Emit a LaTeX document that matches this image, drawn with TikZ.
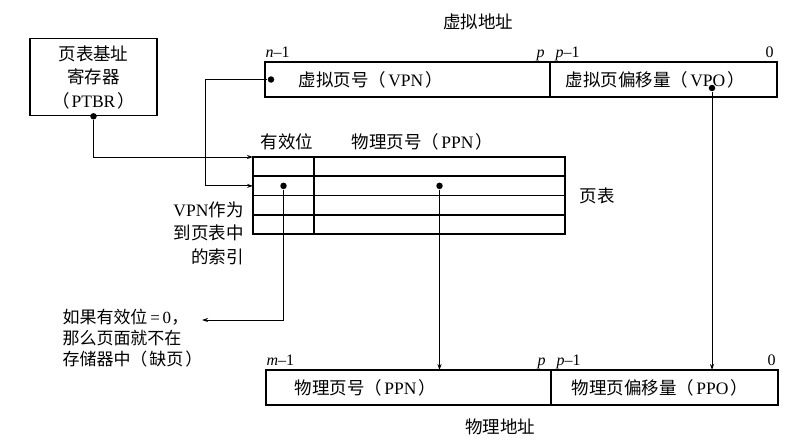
\documentclass[tikz,border=0pt]{standalone}
\usepackage{fontspec}
\setmainfont{Liberation Serif}
\newfontfamily\cjk{Noto Sans CJK SC}
\usetikzlibrary{arrows.meta}
\newcommand{\zh}[1]{{\cjk #1}}
\newcommand{\zhparen}[1]{\zh{（}\hspace{2pt}#1\hspace{2pt}\zh{）}}
\tikzstyle{field}=[draw, line width=1.6pt, anchor=north west, minimum height=35, inner sep=0, outer sep=0]
\tikzstyle{cell}=[draw, line width=1.6pt, anchor=north west, minimum height=19.25, inner sep=0, outer sep=0]
\tikzstyle{dot}=[circle, fill, inner sep=0, minimum size=6.5]
\tikzstyle{bitlabel}=[font=\fontsize{16}{16}\selectfont, inner sep=0]
\tikzstyle{addrmap}=[x=1pt, y=-1pt, line width=1pt,
                     % Default text size for all labels.
                     every node/.style={font=\fontsize{17.5}{23.5}\selectfont},
                     >={Stealth[length=6pt, width=4pt]}]
\begin{document}
\begin{tikzpicture}[addrmap]
    \useasboundingbox (0, 0) rectangle (812, 447);
    % Page table base register.
    \node[draw, line width=1.6pt, minimum width=127, minimum height=77, align=center, inner sep=0] (ptbr) at (93.5, 77)
        {\zh{页表基址}\\\zh{寄存器}\\\zhparen{PTBR}};
    % Virtual address.
    \node at (478, 22) {\zh{虚拟地址}};
    \node[field, minimum width=285] (vpn) at (265, 62) {};
    \node[field, minimum width=227] (vpo) at (550, 62) {};
    \node[anchor=west] at ([xshift=30]vpn.west) {\zh{虚拟页号}\zhparen{VPN}};
    \node[anchor=west] at ([xshift=12]vpo.west) {\zh{虚拟页偏移量}\zhparen{VPO}};
    \node[bitlabel, anchor=base west] at ([yshift=5]vpn.north west) {\textit{n}–1};
    \node[bitlabel, anchor=base east] at ([xshift=-5, yshift=5]vpo.north west) {\textit{p}};
    \node[bitlabel, anchor=base west] at ([xshift=5, yshift=5]vpo.north west) {\textit{p}–1};
    \node[bitlabel, anchor=base east] at ([xshift=-3, yshift=5]vpo.north east) {0};
    % Page table.
    \foreach \i in {1, ..., 4} {
        \node[cell, minimum width=61] (v\i) at (253, {157 + (\i - 1) * 19.25}) {};
        \node[cell, minimum width=251] (f\i) at (314, {157 + (\i - 1) * 19.25}) {};
    }
    \node at (287, 142) {\zh{有效位}};
    \node[anchor=west] at (348, 142) {\zh{物理页号}\zhparen{PPN}};
    \node[anchor=west] at ([xshift=11]f2.south east) {\zh{页表}};
    \node[anchor=north east, align=right, inner sep=0] (index) at (244, 201)
        {VPN\zh{作为}\\\zh{到页表中}\\\zh{的索引}};
    \node[anchor=north west, align=left, inner sep=0, font=\fontsize{17}{21}\selectfont] (fault) at (62, 309)
        {\zh{如果有效位}\,=\,0\zh{，}\\\zh{那么页面就不在}\\\zh{存储器中}\zhparen{\zh{缺页}}};
    % Physical address.
    \node[field, minimum width=285] (ppn) at (266, 370) {};
    \node[field, minimum width=227] (ppo) at (551, 370) {};
    \node[anchor=west] at ([xshift=25]ppn.west) {\zh{物理页号}\zhparen{PPN}};
    \node[anchor=west] at ([xshift=17]ppo.west) {\zh{物理页偏移量}\zhparen{PPO}};
    \node[bitlabel, anchor=base west] at ([yshift=5]ppn.north west) {\textit{m}–1};
    \node[bitlabel, anchor=base east] at ([xshift=-5, yshift=5]ppo.north west) {\textit{p}};
    \node[bitlabel, anchor=base west] at ([xshift=5, yshift=5]ppo.north west) {\textit{p}–1};
    \node[bitlabel, anchor=base east] at ([xshift=-2, yshift=5]ppo.north east) {0};
    \node at (500, 427) {\zh{物理地址}};
    % Dots and connectors.
    \node[dot] (ptbrdot) at (ptbr.south) {};
    \node[dot] (vpndot) at ([xshift=6]vpn.west) {};
    \node[dot] (vpodot) at (712, 88) {};
    \node[dot] (validdot) at (v2.center) {};
    \node[dot] (ppndot) at (f2.center) {};
    \coordinate (vpnbend) at ([xshift=-60]vpn.west);
    \coordinate (faultend) at (202, 320);
    \draw[->] (ptbrdot) |- (v1.north west);
    \draw[->] (vpndot) -- (vpnbend) |- (v2.west);
    \draw[->] (vpodot) -- (vpodot |- ppo.north);
    \draw[->] (ppndot) -- (ppndot |- ppn.north);
    \draw[->] (validdot) |- (faultend);
\end{tikzpicture}
\end{document}
